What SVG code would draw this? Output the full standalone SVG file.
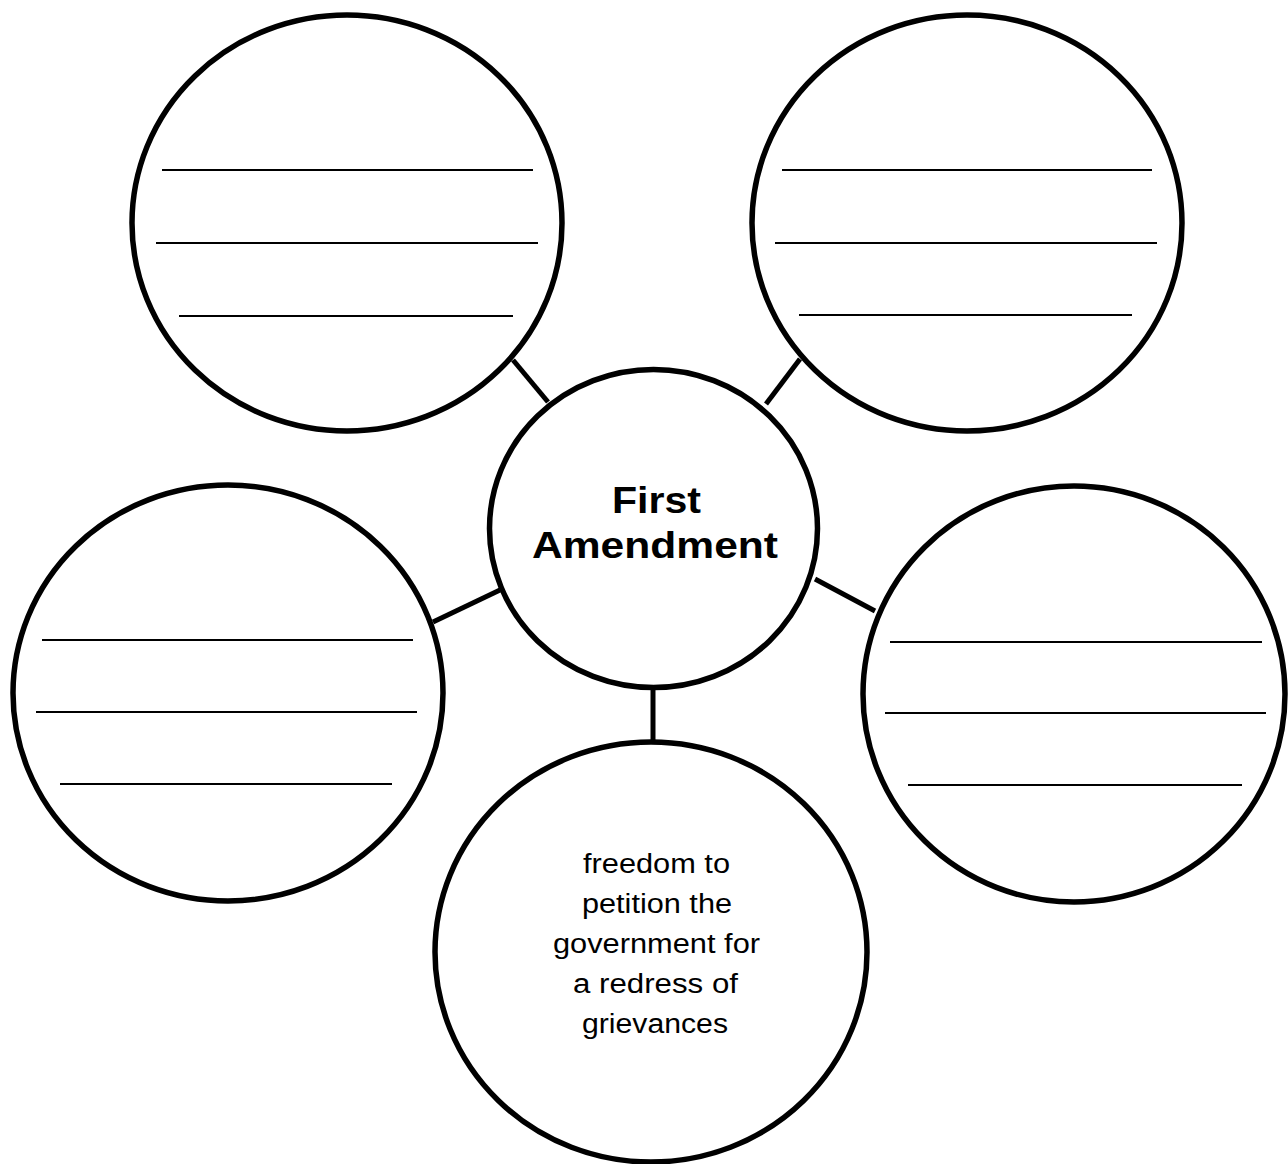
<svg xmlns="http://www.w3.org/2000/svg" width="1288" height="1164" viewBox="0 0 1288 1164">
<style>
.c{fill:#fff;stroke:#000;stroke-width:5.5}
.w{stroke:#000;stroke-width:2}
.k{stroke:#000;stroke-width:5;stroke-linecap:butt}
.t1{font-family:"Liberation Sans",Arial,sans-serif;font-weight:bold;font-size:37px;fill:#000}
.t2{font-family:"Liberation Sans",Arial,sans-serif;font-size:27px;fill:#000}
</style>
<rect width="1288" height="1164" fill="#fff"/>
<g id="connectors">
<line class="k" x1="513" y1="360" x2="548" y2="402"/>
<line class="k" x1="800" y1="359" x2="766" y2="404"/>
<line class="k" x1="433" y1="622" x2="500" y2="590"/>
<line class="k" x1="815" y1="579" x2="875" y2="611"/>
<line class="k" x1="653" y1="686" x2="653" y2="742"/>
</g>
<g id="node-top-left">
<ellipse class="c" cx="347" cy="223" rx="215" ry="208"/>
<line class="w" x1="162" y1="170" x2="533" y2="170"/>
<line class="w" x1="156" y1="243" x2="538" y2="243"/>
<line class="w" x1="179" y1="316" x2="513" y2="316"/>
</g>
<g id="node-top-right">
<ellipse class="c" cx="967" cy="223" rx="215" ry="208"/>
<line class="w" x1="782" y1="170" x2="1152" y2="170"/>
<line class="w" x1="775" y1="243" x2="1157" y2="243"/>
<line class="w" x1="799" y1="315" x2="1132" y2="315"/>
</g>
<g id="node-left">
<ellipse class="c" cx="228" cy="693" rx="215" ry="208"/>
<line class="w" x1="42" y1="640" x2="413" y2="640"/>
<line class="w" x1="36" y1="712" x2="417" y2="712"/>
<line class="w" x1="60" y1="784" x2="392" y2="784"/>
</g>
<g id="node-right">
<ellipse class="c" cx="1074" cy="694" rx="211" ry="208"/>
<line class="w" x1="890" y1="642" x2="1262" y2="642"/>
<line class="w" x1="885" y1="713" x2="1266" y2="713"/>
<line class="w" x1="908" y1="785" x2="1242" y2="785"/>
</g>
<g id="node-center">
<ellipse class="c" cx="653.5" cy="528.5" rx="164" ry="159"/>
<text class="t1" x="612" y="513" textLength="89" lengthAdjust="spacingAndGlyphs">First</text>
<text class="t1" x="532" y="558" textLength="246" lengthAdjust="spacingAndGlyphs">Amendment</text>
</g>
<g id="node-bottom">
<ellipse class="c" cx="651" cy="952" rx="216" ry="210"/>
<text class="t2" x="583" y="873" textLength="147" lengthAdjust="spacingAndGlyphs">freedom to</text>
<text class="t2" x="582" y="913" textLength="150" lengthAdjust="spacingAndGlyphs">petition the</text>
<text class="t2" x="553" y="953" textLength="207" lengthAdjust="spacingAndGlyphs">government for</text>
<text class="t2" x="573" y="993" textLength="165" lengthAdjust="spacingAndGlyphs">a redress of</text>
<text class="t2" x="582" y="1033" textLength="146" lengthAdjust="spacingAndGlyphs">grievances</text>
</g>
</svg>
